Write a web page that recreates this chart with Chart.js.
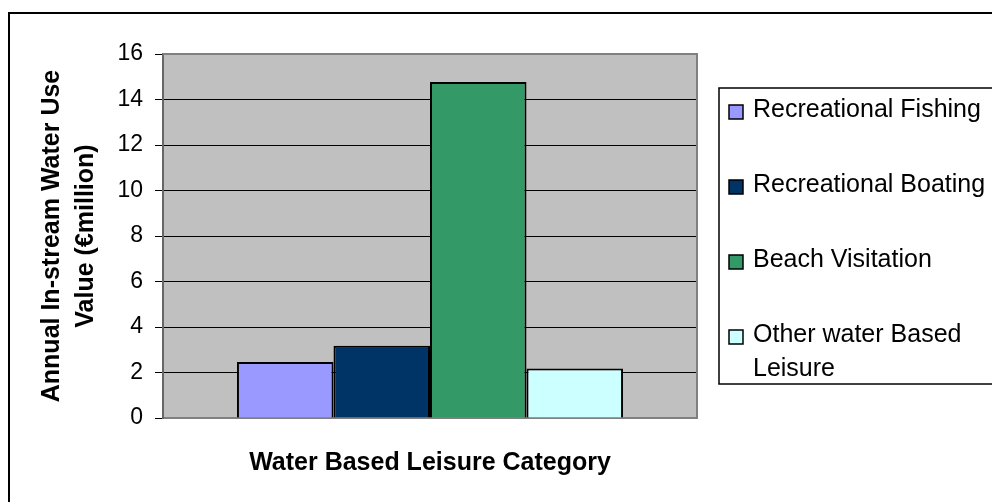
<!DOCTYPE html>
<html>
<head>
<meta charset="utf-8">
<title>Water Based Leisure</title>
<script src="https://cdn.jsdelivr.net/npm/chart.js@4.4.1/dist/chart.umd.min.js"></script>
<style>
    html, body { margin: 0; padding: 0; background: #fff; overflow: hidden; }
    #wrap { position: relative; width: 992px; height: 502px; }
</style>
</head>
<body>
<div id="wrap"><canvas id="leisure-chart"></canvas></div>
<script>
// Annual in-stream water use value by leisure category (EUR million)
const categories = [''];
const seriesLabels = ['Recreational Fishing', 'Recreational Boating', 'Beach Visitation', 'Other water Based Leisure'];
const seriesValues = [2.46, 3.18, 14.77, 2.18];
const seriesColors = ['#9999ff', '#003366', '#339966', '#ccffff'];
const yTitleLines = ['Annual In-stream Water Use', 'Value (\u20acmillion)'];
const xTitle = 'Water Based Leisure Category';

const FONT = "'Liberation Sans', Arial, sans-serif";

/**
 * Gray plot background, plot frame and outer border
 */
const framePlugin = {
    id: 'frame',
    beforeDraw(chart) {
        const { ctx, chartArea: a } = chart;
        ctx.save();
        ctx.strokeStyle = '#000';
        ctx.lineWidth = 2;
        ctx.strokeRect(9, 13, 1100, 600);
        ctx.fillStyle = '#c0c0c0';
        ctx.fillRect(a.left, a.top, a.right - a.left, a.bottom - a.top);
        ctx.restore();
    },
    beforeDatasetsDraw(chart) {
        const { ctx, chartArea: a } = chart;
        ctx.save();
        ctx.strokeStyle = '#808080';
        ctx.lineWidth = 2;
        ctx.beginPath();
        ctx.moveTo(a.left, a.top);
        ctx.lineTo(a.right, a.top);
        ctx.lineTo(a.right, a.bottom);
        ctx.stroke();
        ctx.restore();
    }
};

/**
 * Boxed legend on the right, long labels wrap onto a second line
 */
const boxLegendPlugin = {
    id: 'boxLegend',
    afterDraw(chart, args, opts) {
        const { ctx } = chart;
        const x = opts.x, y = opts.y;
        ctx.save();
        ctx.strokeStyle = '#000';
        ctx.lineWidth = 1.5;
        ctx.strokeRect(x, y, 400, opts.height);

        ctx.font = opts.fontSize + 'px ' + FONT;
        ctx.textBaseline = 'middle';
        ctx.textAlign = 'left';

        let rowY = y + opts.firstRow;
        chart.data.datasets.forEach(ds => {
            // wrap label to the available width
            const words = ds.label.split(' ');
            const lines = [];
            let line = '';
            words.forEach(w => {
                const test = line ? line + ' ' + w : w;
                if (line && ctx.measureText(test).width > opts.maxWidth) {
                    lines.push(line);
                    line = w;
                } else {
                    line = test;
                }
            });
            lines.push(line);

            const s = opts.boxSize;
            ctx.fillStyle = ds.backgroundColor;
            ctx.fillRect(x + 10, rowY - s / 2 + 2, s, s);
            ctx.strokeStyle = '#000';
            ctx.lineWidth = 1.5;
            ctx.strokeRect(x + 10, rowY - s / 2 + 2, s, s);

            ctx.fillStyle = '#000';
            lines.forEach((l, i) => {
                ctx.fillText(l, x + 34, rowY + i * opts.lineGap);
            });
            rowY += opts.rowGap;
        });
        ctx.restore();
    }
};

const ctx = document.getElementById('leisure-chart');

const leisureChart = new Chart(ctx, {
    type: 'bar',
    data: {
        labels: categories,
        datasets: seriesLabels.map((label, i) => ({
            label: label,
            data: [seriesValues[i]],
            backgroundColor: seriesColors[i],
            borderColor: '#000',
            borderWidth: 2,
            categoryPercentage: 0.723,
            barPercentage: 1
        }))
    },
    options: {
        responsive: true,
        maintainAspectRatio: false,
        animation: false,
        layout: {
            padding: { left: 10, top: 54, right: 295, bottom: 0 }
        },
        plugins: {
            legend: { display: false },
            tooltip: { enabled: false },
            boxLegend: {
                x: 719, y: 88, height: 296,
                firstRow: 22, rowGap: 75, lineGap: 34,
                boxSize: 14, fontSize: 25, maxWidth: 240
            }
        },
        scales: {
            x: {
                grid: { display: false },
                border: { display: true, color: '#808080', width: 2 },
                ticks: { display: false },
                title: {
                    display: true,
                    text: xTitle,
                    color: '#000',
                    font: { family: FONT, size: 25, weight: 'bold', lineHeight: 1.2 },
                    padding: { top: 0, bottom: 24 }
                },
                afterFit: s => { s.height = 84; }
            },
            y: {
                min: 0,
                max: 16,
                ticks: {
                    stepSize: 2,
                    color: '#000',
                    padding: 12,
                    font: { family: FONT, size: 23 }
                },
                grid: {
                    color: c => (c.tick && (c.tick.value === 0 || c.tick.value === 16)) ? '#808080' : '#000',
                    tickColor: '#000',
                    tickLength: 8,
                    lineWidth: 1
                },
                border: { display: true, color: '#666', width: 2 },
                title: {
                    display: true,
                    text: yTitleLines,
                    color: '#000',
                    font: { family: FONT, size: 25, weight: 'bold', lineHeight: 1.36 },
                    padding: { top: 25, bottom: 0 }
                },
                afterFit: s => { s.width = 153; }
            }
        }
    },
    plugins: [framePlugin, boxLegendPlugin]
});
</script>
</body>
</html>
